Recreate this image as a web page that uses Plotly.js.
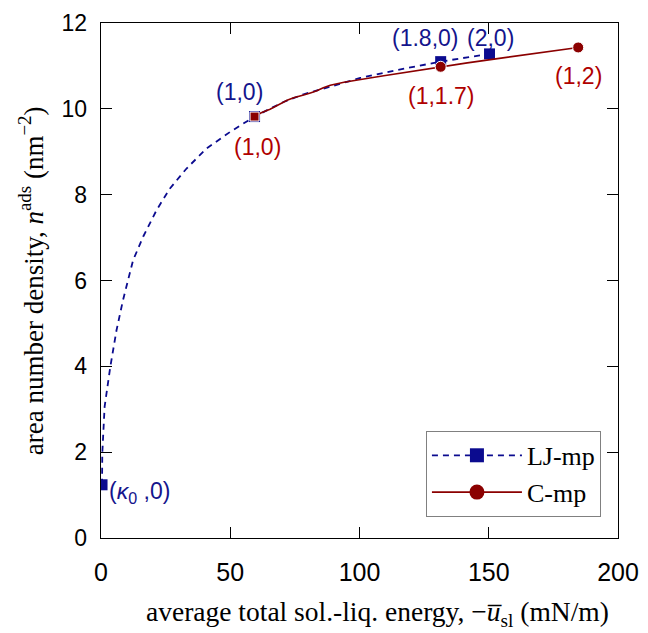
<!DOCTYPE html>
<html>
<head>
<meta charset="utf-8">
<script src="https://cdn.plot.ly/plotly-3.0.1.min.js"></script>
<style>html,body{margin:0;padding:0;background:#fff;}#chart{width:648px;height:633px;}</style>
</head>
<body>
<div id="chart"></div>
<script>
// LJ-mp fitted curve (dashed)
const ljCurveX = [0.4, 0.5, 1.4, 3.6, 6.0, 8.5, 12.4, 16.3, 21.5, 26.6, 33.1, 40.9, 49.9, 59.4, 70.6, 78.4, 86.1, 100.3, 115.9, 131.4, 141.7, 150.3];
const ljCurveY = [1.24, 1.97, 3.06, 3.99, 4.84, 5.54, 6.47, 7.02, 7.64, 8.14, 8.61, 9.08, 9.46, 9.82, 10.16, 10.34, 10.47, 10.72, 10.92, 11.10, 11.20, 11.28];
// LJ-mp data points
const ljX = [0.4, 59.4, 131.4, 150.3];
const ljY = [1.24, 9.82, 11.10, 11.28];
const ljLabels = ['(<i>κ</i><sub>0</sub> ,0)', '(1,0)', '(1.8,0)', '(2,0)'];
// C-mp curve (solid)
const cCurveX = [59.4, 62.0, 65.4, 67.5, 69.3, 72.0, 74.5, 76.5, 78.4, 81.0, 83.5, 86.0, 88.7, 94.0, 99.1, 104.0, 109.4, 114.5, 119.7, 125.5, 131.4, 141.7, 153.4, 184.6];
const cCurveY = [9.82, 9.91, 9.99, 10.06, 10.11, 10.20, 10.26, 10.30, 10.32, 10.37, 10.42, 10.49, 10.55, 10.62, 10.68, 10.72, 10.77, 10.82, 10.86, 10.92, 10.98, 11.07, 11.17, 11.43];
// C-mp data points
const cX = [59.4, 131.4, 184.6];
const cY = [9.82, 10.98, 11.43];
const cLabels = ['(1,0)', '(1,1.7)', '(1,2)'];
// axis titles
const xTitle = 'average total sol.-liq. energy, −<i>u̅</i><sub>sl</sub> (mN/m)';
const yTitle = 'area number density, <i>n</i><sup>ads</sup> (nm<sup>−2</sup>)';

const blue = '#0b0b8f';
const red = '#8b0000';
const blueText = '#14148c';
const redText = '#b00000';

const traces = [
  {x: ljCurveX, y: ljCurveY, mode: 'lines', line: {color: blue, width: 1.8, dash: '6px,5px'}, showlegend: false, hoverinfo: 'skip'},
  {x: ljX, y: ljY, mode: 'markers', marker: {symbol: 'square', size: 11, color: blue, opacity: 1}, showlegend: false},
  {x: cCurveX, y: cCurveY, mode: 'lines', line: {color: red, width: 1.6}, showlegend: false, hoverinfo: 'skip'},
  {x: cX, y: cY, mode: 'markers', marker: {symbol: ['square', 'circle', 'circle'], size: [9, 11, 11], color: red, opacity: 1}, showlegend: false},
  {x: [null], y: [null], mode: 'lines+markers', name: 'LJ-mp', line: {color: blue, width: 1.8, dash: '6px,5px'}, marker: {symbol: 'square', size: 14, color: blue, opacity: 1}},
  {x: [null], y: [null], mode: 'lines+markers', name: 'C-mp', line: {color: red, width: 1.6}, marker: {symbol: 'circle', size: 15, color: red, opacity: 1}}
];

const annFont = (c) => ({family: 'Liberation Sans, Arial, sans-serif', size: 23, color: c});
const serif = (s) => ({family: 'Liberation Serif, Times New Roman, serif', size: s, color: '#000'});

const annotations = [
  {x: 53.5, y: 10.39, text: ljLabels[1], font: annFont(blueText)},
  {x: 125.5, y: 11.64, text: ljLabels[2], font: annFont(blueText)},
  {x: 150.5, y: 11.64, text: ljLabels[3], font: annFont(blueText)},
  {x: 2.4, y: 1.07, text: ljLabels[0], font: annFont(blueText), xanchor: 'left'},
  {x: 60.5, y: 9.12, text: cLabels[0], font: annFont(redText)},
  {x: 131.4, y: 10.31, text: cLabels[1], font: annFont(redText)},
  {x: 184.6, y: 10.76, text: cLabels[2], font: annFont(redText)}
].map(a => Object.assign({xref: 'x', yref: 'y', showarrow: false}, a));

annotations.push({xref: 'paper', yref: 'paper', x: 0.534, y: -0.146, text: xTitle, showarrow: false, font: serif(27.5), xanchor: 'center', yanchor: 'middle'});
annotations.push({xref: 'paper', yref: 'paper', x: -0.135, y: 0.499, text: yTitle, showarrow: false, font: serif(27), textangle: -90, xanchor: 'center', yanchor: 'middle'});

const layout = {
  width: 648, height: 633,
  margin: {l: 101, r: 30, t: 23, b: 95, pad: 0},
  paper_bgcolor: '#fff', plot_bgcolor: '#fff',
  showlegend: true,
  xaxis: {
    range: [0, 200], tickvals: [0, 50, 100, 150, 200], ticks: 'inside', ticklen: 11, tickcolor: '#000', tickwidth: 1.2,
    showline: true, linecolor: '#000', linewidth: 1.3, mirror: 'ticks', showgrid: false, zeroline: false,
    tickfont: {family: 'Liberation Sans, Arial, sans-serif', size: 25, color: '#000'}, ticklabelstandoff: 12
  },
  yaxis: {
    range: [0, 12], tickvals: [0, 2, 4, 6, 8, 10, 12], ticks: 'inside', ticklen: 11, tickcolor: '#000', tickwidth: 1.2,
    showline: true, linecolor: '#000', linewidth: 1.3, mirror: 'ticks', showgrid: false, zeroline: false,
    tickfont: {family: 'Liberation Sans, Arial, sans-serif', size: 23, color: '#000'}, ticklabelstandoff: 8
  },
  legend: {
    x: 0.967, y: 0.041, xanchor: 'right', yanchor: 'bottom',
    bordercolor: '#808080', borderwidth: 1, bgcolor: '#fff',
    font: serif(26),
    itemwidth: 90, tracegroupgap: 0
  },
  annotations: annotations
};

Plotly.newPlot('chart', traces, layout, {staticPlot: true, displayModeBar: false});
</script>
</body>
</html>
